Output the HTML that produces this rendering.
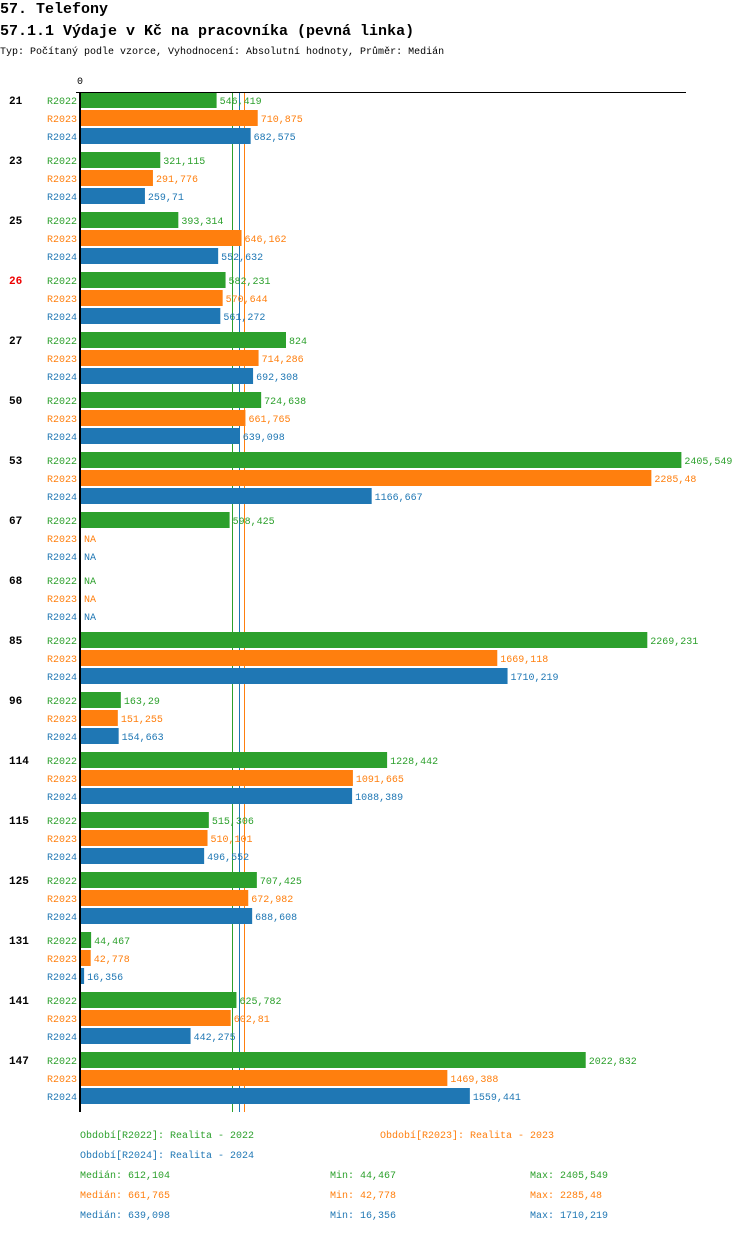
<!DOCTYPE html>
<html><head><meta charset="utf-8"><style>
body{margin:0;background:#fff;width:750px;height:1232px;overflow:hidden;font-family:"Liberation Mono",monospace}
svg text{font-family:"Liberation Mono",monospace}
</style></head><body>
<svg id="c" width="750" height="1232" xmlns="http://www.w3.org/2000/svg">
<text x="0" y="13" font-size="15" font-weight="bold">57. Telefony</text>
<text x="0" y="35" font-size="15" font-weight="bold">57.1.1 Výdaje v Kč na pracovníka (pevná linka)</text>
<text x="0" y="54" font-size="10">Typ: Počítaný podle vzorce, Vyhodnocení: Absolutní hodnoty, Průměr: Medián</text>
<text x="77" y="84" font-size="10">0</text>
<g id="lines"></g><g id="bars"></g>
<line x1="76" y1="92.5" x2="686" y2="92.5" stroke="#000"/>
<line x1="80" y1="92" x2="80" y2="1112" stroke="#000" stroke-width="2"/>
<g font-size="10">
<text x="80" y="1138" fill="#2ca02c">Období[R2022]: Realita - 2022</text>
<text x="380" y="1138" fill="#ff7f0e">Období[R2023]: Realita - 2023</text>
<text x="80" y="1158" fill="#1f77b4">Období[R2024]: Realita - 2024</text>
<g id="stats"></g>
</g>
</svg>
<script>
const categories=["21","23","25","26","27","50","53","67","68","85","96","114","115","125","131","141","147"];
const r2022=[546.419,321.115,393.314,582.231,824,724.638,2405.549,598.425,null,2269.231,163.29,1228.442,515.306,707.425,44.467,625.782,2022.832];
const r2023=[710.875,291.776,646.162,570.644,714.286,661.765,2285.48,null,null,1669.118,151.255,1091.665,510.101,672.982,42.778,602.81,1469.388];
const r2024=[682.575,259.71,552.632,561.272,692.308,639.098,1166.667,null,null,1710.219,154.663,1088.389,496.552,688.608,16.356,442.275,1559.441];
const seriesNames=["R2022","R2023","R2024"];
const medians=[612.104,661.765,639.098];
const mins=[44.467,42.778,16.356];
const maxs=[2405.549,2285.48,1710.219];
const highlighted=["26"];
const colors=["#2ca02c","#ff7f0e","#1f77b4"];
const NS="http://www.w3.org/2000/svg";
const x=v=>80+v*0.25;
const fmt=v=>String(v).replace('.',',');
function mk(tag,attrs,parent,txt){const e=document.createElementNS(NS,tag);for(const k in attrs)e.setAttribute(k,attrs[k]);if(txt!=null)e.textContent=txt;parent.appendChild(e);return e;}
const bars=document.getElementById('bars'),lines=document.getElementById('lines'),stats=document.getElementById('stats');
const lineOrder=[0,2,1];
lineOrder.forEach(i=>{const l=mk('line',{x1:Math.round(x(medians[i]))-0.5,x2:Math.round(x(medians[i]))-0.5,y1:92,y2:1112,stroke:colors[i],'stroke-width':1},lines);

});
const all=[r2022,r2023,r2024];
categories.forEach((c,gi)=>{
 const y0=92+gi*60;
 const t=mk('text',{x:9,y:y0+12,'font-size':11,'font-weight':'bold',fill:highlighted.includes(c)?'#e00':'#000'},bars,c);
 
 
 all.forEach((s,si)=>{
  const y=y0+si*18;
  const lab=mk('text',{x:47,y:y+12,'font-size':10,fill:colors[si]},bars,seriesNames[si]);
  
  
  const v=s[gi];
  if(v!=null){
   const r=mk('rect',{x:81,y:y,width:x(v)-81,height:16,fill:colors[si]},bars);
   
   
  }
  const vt=mk('text',{x:(v!=null?x(v):81)+3,y:y+12,'font-size':10,fill:colors[si]},bars,v!=null?fmt(v):'NA');
  
  
 });
});
[0,1,2].forEach(i=>{
 const y=1178+i*20;
 const a=mk('text',{x:80,y:y,fill:colors[i]},stats,'Medián: '+fmt(medians[i]));
 
 
 const b=mk('text',{x:330,y:y,fill:colors[i]},stats,'Min: '+fmt(mins[i]));
 
 
 const d=mk('text',{x:530,y:y,fill:colors[i]},stats,'Max: '+fmt(maxs[i]));
 
 
});
</script>
</body></html>
